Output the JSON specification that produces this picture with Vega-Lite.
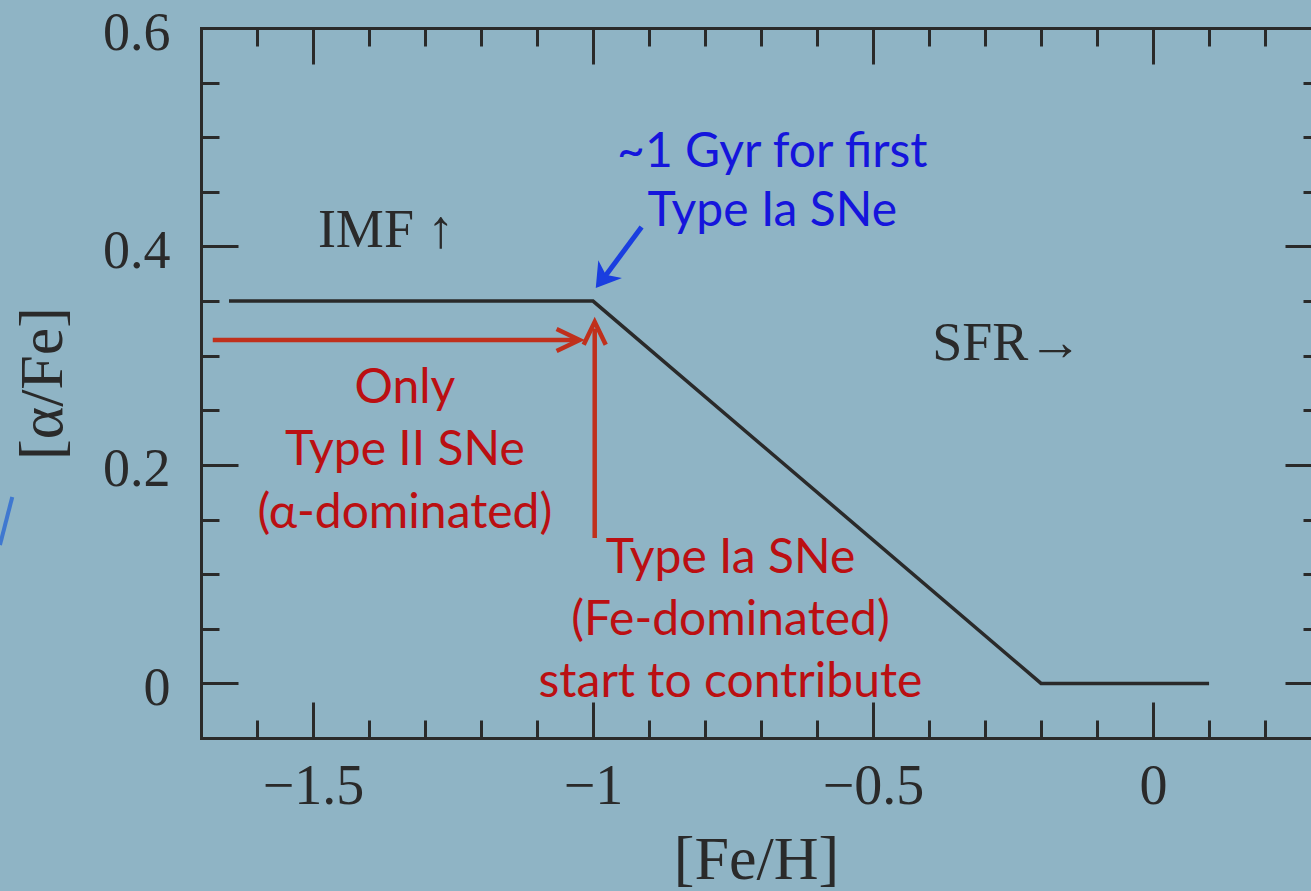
{
  "$schema": "https://vega.github.io/schema/vega-lite/v6.json",
  "width": 1110,
  "height": 710,
  "autosize": {"type": "none"},
  "padding": {"left": 201, "top": 28, "right": 0, "bottom": 153},
  "background": "#8fb4c5",
  "config": {
    "view": {"stroke": null},
    "axis": {
      "grid": false,
      "domainColor": "#2a2a2a",
      "tickColor": "#2a2a2a",
      "labelColor": "#2a2a2a",
      "titleColor": "#2a2a2a",
      "labelFont": "Liberation Serif",
      "titleFont": "Liberation Serif",
      "titleFontWeight": "normal",
      "tickWidth": 3,
      "domainWidth": 3,
      "domainCap": "square",
      "labelFlush": false,
      "labelOverlap": false
    }
  },
  "datasets": {
    "curve": [
      {"feh": -1.65, "afe": 0.35},
      {"feh": -1.0, "afe": 0.35},
      {"feh": -0.2, "afe": 0.0},
      {"feh": 0.1, "afe": 0.0}
    ],
    "redShafts": [
      {"x0": -1.679, "y0": 0.3144, "x1": -1.03, "y1": 0.3144},
      {"x0": -0.997, "y0": 0.1332, "x1": -0.997, "y1": 0.325}
    ],
    "redHeadRight": [{"x": -1.024, "y": 0.3144}],
    "redHeadUp": [{"x": -0.997, "y": 0.331}],
    "blueShaft": [{"x0": -0.9133, "y0": 0.4178, "x1": -0.9847, "y1": 0.3684}],
    "blueHead": [{"x": -0.9936, "y": 0.3629}],
    "edgeStroke": [{"x0": -2.037, "y0": 0.1707, "x1": -2.059, "y1": 0.1267}],
    "redText": [
      {"x": -1.336, "y": 0.2567, "label": "Only"},
      {"x": -1.336, "y": 0.2, "label": "Type II SNe"},
      {"x": -1.336, "y": 0.1423, "label": "(α-dominated)"},
      {"x": -0.7546, "y": 0.1011, "label": "Type Ia SNe"},
      {"x": -0.7546, "y": 0.0443, "label": "(Fe-dominated)"},
      {"x": -0.7546, "y": -0.0124, "label": "start to contribute"}
    ],
    "blueText": [
      {"x": -0.68, "y": 0.4728, "label": "~1 Gyr for first"},
      {"x": -0.68, "y": 0.4188, "label": "Type Ia SNe"}
    ],
    "serifText": [
      {"x": -1.4913, "y": 0.3995, "label": "IMF ↑"},
      {"x": -0.3943, "y": 0.296, "label": "SFR→"}
    ]
  },
  "layer": [
    {
      "data": {"name": "curve"},
      "mark": {"type": "line", "color": "#2a2a2a", "strokeWidth": 3.5, "strokeJoin": "miter"},
      "encoding": {
        "x": {
          "field": "feh", "type": "quantitative",
          "scale": {"domain": [-1.7, 0.282], "nice": false, "zero": false},
          "axis": {
            "orient": "bottom",
            "values": [-1.5, -1, -0.5, 0],
            "tickSize": -36,
            "labelPadding": 57,
            "labelFontSize": 56,
            "labelExpr": "format(datum.value, '~g')",
            "title": "[Fe/H]",
            "titleFontSize": 62,
            "titlePadding": 15
          }
        },
        "y": {
          "field": "afe", "type": "quantitative",
          "scale": {"domain": [-0.05, 0.6], "nice": false, "zero": false},
          "axis": {
            "orient": "left",
            "values": [0, 0.2, 0.4, 0.6],
            "tickSize": -37,
            "labelPadding": 68,
            "labelFontSize": 54,
            "labelBaseline": "alphabetic",
            "labelOffset": 21,
            "labelExpr": "datum.value == 0 ? '0' : format(datum.value, '.1f')",
            "title": "[α/Fe]",
            "titleFontSize": 62,
            "titlePadding": 28
          }
        }
      }
    },
    {
      "data": {"name": "redShafts"},
      "mark": {"type": "rule", "color": "#c0301c", "strokeWidth": 4.5},
      "encoding": {
        "x": {
          "field": "x0", "type": "quantitative",
          "axis": {
            "orient": "bottom",
            "values": [-1.6, -1.4, -1.3, -1.2, -1.1, -0.9, -0.8, -0.7, -0.6, -0.4, -0.3, -0.2, -0.1, 0.1, 0.2],
            "tickSize": -18, "labels": false, "domain": false, "title": null
          }
        },
        "x2": {"field": "x1"},
        "y": {
          "field": "y0", "type": "quantitative",
          "axis": {
            "orient": "left",
            "values": [0.05, 0.1, 0.15, 0.25, 0.3, 0.35, 0.45, 0.5, 0.55],
            "tickSize": -18, "labels": false, "domain": false, "title": null
          }
        },
        "y2": {"field": "y1"}
      }
    },
    {
      "data": {"name": "redHeadRight"},
      "mark": {
        "type": "point", "shape": "M -1 -0.48 L 0 0 L -1 0.48", "size": 2116,
        "filled": false, "stroke": "#c0301c", "strokeWidth": 4.5, "opacity": 1,
        "strokeJoin": "miter", "angle": 0
      },
      "encoding": {
        "x": {
          "field": "x", "type": "quantitative",
          "axis": {
            "orient": "top",
            "values": [-1.5, -1, -0.5, 0],
            "tickSize": -36, "labels": false, "domain": true, "title": null
          }
        },
        "y": {
          "field": "y", "type": "quantitative",
          "axis": {
            "orient": "right",
            "values": [0, 0.2, 0.4, 0.6],
            "tickSize": -36, "labels": false, "domain": false, "title": null, "offset": 10
          }
        }
      }
    },
    {
      "data": {"name": "redHeadUp"},
      "mark": {
        "type": "point", "shape": "M -1 -0.48 L 0 0 L -1 0.48", "size": 2116,
        "filled": false, "stroke": "#c0301c", "strokeWidth": 4.5, "opacity": 1,
        "strokeJoin": "miter", "angle": 270
      },
      "encoding": {
        "x": {
          "field": "x", "type": "quantitative",
          "axis": {
            "orient": "top",
            "values": [-1.6, -1.4, -1.3, -1.2, -1.1, -0.9, -0.8, -0.7, -0.6, -0.4, -0.3, -0.2, -0.1, 0.1, 0.2],
            "tickSize": -18, "labels": false, "domain": false, "title": null
          }
        },
        "y": {
          "field": "y", "type": "quantitative",
          "axis": {
            "orient": "right",
            "values": [0.05, 0.1, 0.15, 0.25, 0.3, 0.35, 0.45, 0.5, 0.55],
            "tickSize": -18, "labels": false, "domain": false, "title": null, "offset": 10
          }
        }
      }
    },
    {
      "data": {"name": "blueShaft"},
      "mark": {"type": "rule", "color": "#1a3ee0", "strokeWidth": 5},
      "encoding": {
        "x": {"field": "x0", "type": "quantitative", "axis": null},
        "x2": {"field": "x1"},
        "y": {"field": "y0", "type": "quantitative", "axis": null},
        "y2": {"field": "y1"}
      }
    },
    {
      "data": {"name": "blueHead"},
      "mark": {
        "type": "point", "shape": "M -1 -0.62 L 0 0 L -1 0.62 L -0.7 0 Z", "size": 1700,
        "filled": true, "fill": "#1a3ee0", "stroke": "#1a3ee0", "strokeWidth": 1.5,
        "opacity": 1, "angle": 127
      },
      "encoding": {
        "x": {"field": "x", "type": "quantitative", "axis": null},
        "y": {"field": "y", "type": "quantitative", "axis": null}
      }
    },
    {
      "data": {"name": "edgeStroke"},
      "mark": {"type": "rule", "color": "#3f78d0", "strokeWidth": 4},
      "encoding": {
        "x": {"field": "x0", "type": "quantitative", "axis": null},
        "x2": {"field": "x1"},
        "y": {"field": "y0", "type": "quantitative", "axis": null},
        "y2": {"field": "y1"}
      }
    },
    {
      "data": {"name": "redText"},
      "mark": {
        "type": "text", "font": "Lato", "fontSize": 48, "color": "#bb0f12",
        "align": "center", "baseline": "alphabetic"
      },
      "encoding": {
        "x": {"field": "x", "type": "quantitative", "axis": null},
        "y": {"field": "y", "type": "quantitative", "axis": null},
        "text": {"field": "label"}
      }
    },
    {
      "data": {"name": "blueText"},
      "mark": {
        "type": "text", "font": "Lato", "fontSize": 48, "color": "#1515dc",
        "align": "center", "baseline": "alphabetic"
      },
      "encoding": {
        "x": {"field": "x", "type": "quantitative", "axis": null},
        "y": {"field": "y", "type": "quantitative", "axis": null},
        "text": {"field": "label"}
      }
    },
    {
      "data": {"name": "serifText"},
      "mark": {
        "type": "text", "font": "Liberation Serif", "fontSize": 54, "color": "#2a2a2a",
        "align": "left", "baseline": "alphabetic"
      },
      "encoding": {
        "x": {"field": "x", "type": "quantitative", "axis": null},
        "y": {"field": "y", "type": "quantitative", "axis": null},
        "text": {"field": "label"}
      }
    }
  ],
  "resolve": {"axis": {"x": "independent", "y": "independent"}}
}
